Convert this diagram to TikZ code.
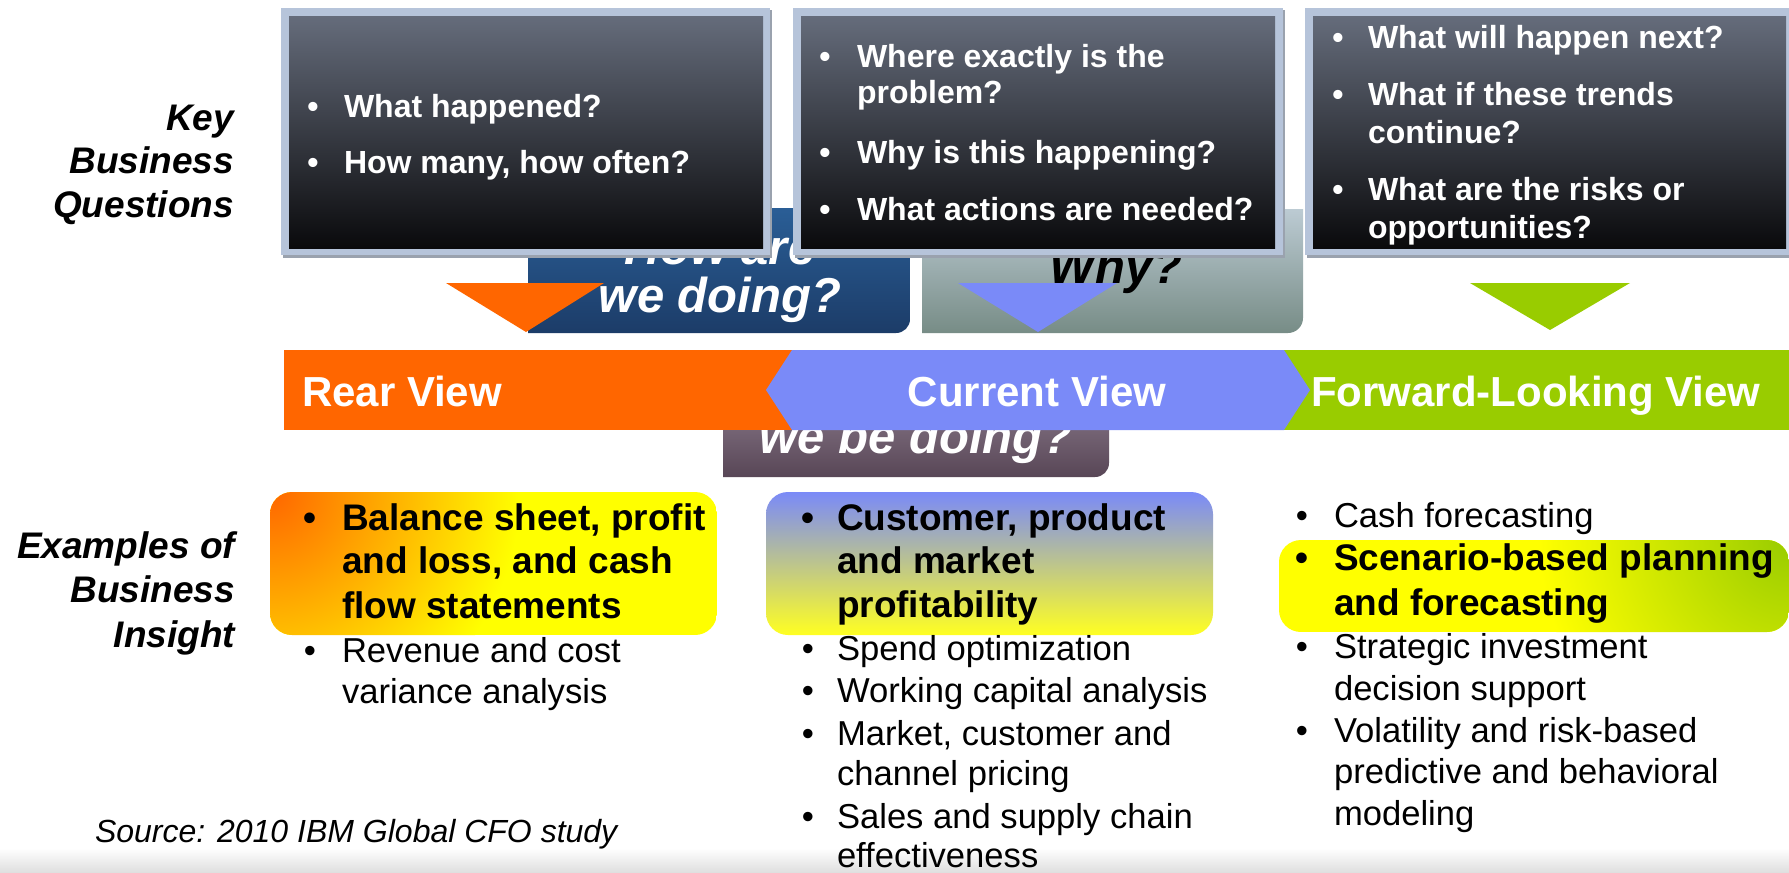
\documentclass[tikz,border=0pt]{standalone}
\usepackage{fontspec}
\setmainfont{Liberation Sans}
\definecolor{orng}{HTML}{FF6600}
\definecolor{cblue}{HTML}{7A8AF8}
\definecolor{grn}{HTML}{99CC00}
\definecolor{yel}{HTML}{FFFF00}
\definecolor{cyel}{HTML}{FFFF22}
\definecolor{frame}{HTML}{B6C4DA}
\definecolor{shadowc}{HTML}{9AA2AE}
\definecolor{dtop}{HTML}{656C7B}
\definecolor{dbot}{HTML}{0A0A0C}
\definecolor{btop}{HTML}{2A5E96}
\definecolor{bbot}{HTML}{1C3C68}
\definecolor{gtop}{HTML}{BCCBD3}
\definecolor{gbot}{HTML}{778C86}
\definecolor{mtop}{HTML}{8E7C90}
\definecolor{mbot}{HTML}{584656}
\begin{document}
\begin{tikzpicture}[x=0.5pt,y=-0.5pt,
  txt/.style={inner sep=0pt,outer sep=0pt},
  qt/.style={txt,anchor=base west,text=white,font=\bfseries\fontsize{16}{19}\selectfont},
  qb/.style={txt,anchor=base,text=white,font=\bfseries\fontsize{16}{19}\selectfont},
  bandt/.style={txt,text=white,font=\bfseries\fontsize{21}{25}\selectfont},
  hid/.style={txt,anchor=base,font=\bfseries\itshape\fontsize{24.5}{29}\selectfont},
  lab/.style={txt,anchor=base east,font=\bfseries\itshape\fontsize{18.5}{22}\selectfont},
  ib/.style={txt,anchor=base west,font=\bfseries\fontsize{18.5}{22}\selectfont},
  ibb/.style={txt,anchor=base,font=\bfseries\fontsize{18.5}{22}\selectfont},
  ir/.style={txt,anchor=base west,font=\fontsize{17.3}{21}\selectfont},
  irb/.style={txt,anchor=base,font=\fontsize{17.3}{21}\selectfont},
  src/.style={txt,anchor=base west,font=\itshape\fontsize{16}{19}\selectfont}]
\useasboundingbox (0,0) rectangle (1789,873);
\fill[white] (0,0) rectangle (1789,873);
\shade[top color=white,bottom color=black!13] (0,848) rectangle (1789,873);

% hidden boxes behind the question boxes
\shade[top color=btop,bottom color=bbot] (528,208) -- (910,208) -- (910,319) arc[start angle=0,end angle=90,radius=14] -- (528,333) -- cycle;
\shade[top color=gtop,bottom color=gbot] (922,209) -- (1303,209) -- (1303,318) arc[start angle=0,end angle=90,radius=15] -- (922,333) -- cycle;
\node[hid,text=white] (howare) at (720,264) {How are};
\node[hid,text=white] (wedoing) at (720,312) {we doing?};
\node[hid,text=black] (why) at (1116,283) {Why?};

% question boxes
\fill[shadowc] (283,10) rectangle (772,258);
\fill[frame] (281,8) rectangle (770,255);
\shade[top color=dtop,bottom color=dbot] (289,16) rectangle (763,248);
\fill[shadowc] (795,10) rectangle (1285,258);
\fill[frame] (793,8) rectangle (1283,255);
\shade[top color=dtop,bottom color=dbot] (801,16) rectangle (1275,248);
\fill[shadowc] (1307,10) rectangle (1789,258);
\fill[frame] (1305,8) rectangle (1789,255);
\shade[top color=dtop,bottom color=dbot] (1313,16) rectangle (1786,248);

\node[qb] (q1b1) at (313,117) {•};
\node[qt] (q1t1) at (344,117) {What happened?};
\node[qb] (q1b2) at (313,173) {•};
\node[qt] (q1t2) at (344,173) {How many, how often?};

\node[qb] (q2b1) at (825,67) {•};
\node[qt] (q2t1) at (857,67) {Where exactly is the};
\node[qt] (q2t1b) at (857,103) {problem?};
\node[qb] (q2b2) at (825,163) {•};
\node[qt] (q2t2) at (857,163) {Why is this happening?};
\node[qb] (q2b3) at (825,220) {•};
\node[qt] (q2t3) at (857,220) {What actions are needed?};

\node[qb] (q3b1) at (1338,48) {•};
\node[qt] (q3t1) at (1368,48) {What will happen next?};
\node[qb] (q3b2) at (1338,105) {•};
\node[qt] (q3t2) at (1368,105) {What if these trends};
\node[qt] (q3t2b) at (1368,143) {continue?};
\node[qb] (q3b3) at (1338,200) {•};
\node[qt] (q3t3) at (1368,200) {What are the risks or};
\node[qt] (q3t3b) at (1368,238) {opportunities?};

% triangles
\fill[orng] (446,283) -- (604,283) -- (526,332) -- cycle;
\fill[cblue] (958,283) -- (1117,283) -- (1038,332) -- cycle;
\fill[grn] (1470,283) -- (1630,283) -- (1550,330) -- cycle;

% mauve box below band
\shade[top color=mtop!85!white,middle color=mtop,bottom color=mbot] (723,360) -- (1109,360) -- (1109,463) arc[start angle=0,end angle=90,radius=14] -- (723,477) -- cycle;
\node[hid,text=white] (webe) at (916,453) {we be doing?};

% band
\fill[orng] (284,350) rectangle (800,430);
\fill[grn] (1280,350) rectangle (1789,430);
\fill[cblue] (766,390) -- (792,350) -- (1284,350) -- (1310,390) -- (1284,430) -- (792,430) -- cycle;
\node[bandt,anchor=base west] (rear) at (302,406) {Rear View};
\node[bandt,anchor=base] (current) at (1037,406) {Current View};
\node[bandt,anchor=base west] (forward) at (1311,406) {Forward-Looking View};

% left labels
\node[lab] (k1) at (234,130) {Key};
\node[lab] (k2) at (234,173) {Business};
\node[lab] (k3) at (234,217) {Questions};
\node[lab] (e1) at (235,558) {Examples of};
\node[lab] (e2) at (235,602) {Business};
\node[lab] (e3) at (235,647) {Insight};

% insight highlight boxes
\begin{scope}
\clip[rounded corners=11pt] (270,492) rectangle (717,635);
\fill[yel] (270,492) rectangle (717,635);
\shade[inner color=orng,outer color=yel] (270,492) circle (250);
\end{scope}
\shade[top color=cblue,bottom color=cyel,rounded corners=11pt] (766,492) rectangle (1213,635);
\begin{scope}
\clip[rounded corners=11pt] (1279,540) rectangle (1789,632);
\fill[yel] (1279,540) rectangle (1789,632);
\shade[inner color=grn,outer color=yel] (1789,540) circle (250);
\end{scope}

% left list
\node[ibb] (l1b) at (310,530) {•};
\node[ib] (l1a) at (342,530) {Balance sheet, profit};
\node[ib] (l1c) at (342,573) {and loss, and cash};
\node[ib] (l1d) at (342,618) {flow statements};
\node[irb] (l2b) at (310,662) {•};
\node[ir] (l2a) at (342,662) {Revenue and cost};
\node[ir] (l2c) at (342,703) {variance analysis};

% center list
\node[ibb] (c1b) at (808,530) {•};
\node[ib] (c1a) at (837,530) {Customer, product};
\node[ib] (c1c) at (837,573) {and market};
\node[ib] (c1d) at (837,617) {profitability};
\node[irb] (c2b) at (808,660) {•};
\node[ir] (c2a) at (837,660) {Spend optimization};
\node[irb] (c3b) at (808,702) {•};
\node[ir] (c3a) at (837,702) {Working capital analysis};
\node[irb] (c4b) at (808,745) {•};
\node[ir] (c4a) at (837,745) {Market, customer and};
\node[ir] (c4c) at (837,785) {channel pricing};
\node[irb] (c5b) at (808,828) {•};
\node[ir] (c5a) at (837,828) {Sales and supply chain};
\node[ir] (c5c) at (837,867) {effectiveness};

% right list
\node[irb] (r1b) at (1302,527) {•};
\node[ir] (r1a) at (1334,527) {Cash forecasting};
\node[ibb] (r2b) at (1302,570) {•};
\node[ib] (r2a) at (1334,570) {Scenario-based planning};
\node[ib] (r2c) at (1334,615) {and forecasting};
\node[irb] (r3b) at (1302,658) {•};
\node[ir] (r3a) at (1334,658) {Strategic investment};
\node[ir] (r3c) at (1334,700) {decision support};
\node[irb] (r4b) at (1302,742) {•};
\node[ir] (r4a) at (1334,742) {Volatility and risk-based};
\node[ir] (r4c) at (1334,783) {predictive and behavioral};
\node[ir] (r4d) at (1334,825) {modeling};

\node[src] (source) at (95,842) {Source: 2010 IBM Global CFO study};
\end{tikzpicture}
\end{document}
